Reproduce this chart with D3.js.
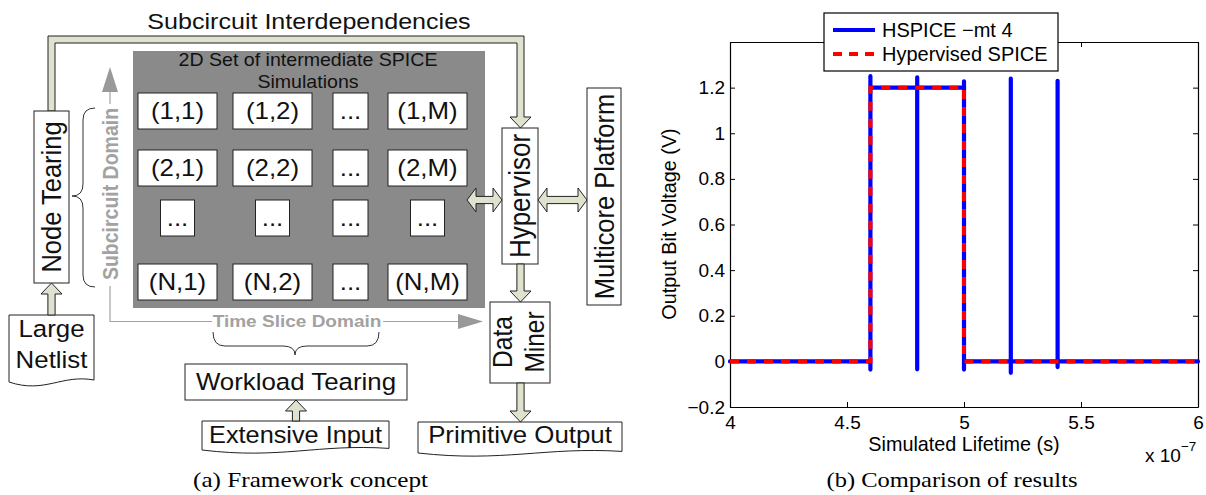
<!DOCTYPE html>
<html lang="en">
<head>
<meta charset="UTF-8" />
<title>Framework concept and comparison of results</title>
<script src="https://d3js.org/d3.v7.min.js"></script>
<style>
  body { margin: 0; background: #fff; }
  text { font-family: "Liberation Sans", Arial, sans-serif; }
  .cap { font-family: "Liberation Serif", "Times New Roman", serif; }
</style>
</head>
<body>
<svg id="fig" width="1206" height="495"></svg>
<script>
// ---- chart data (b) ----
const xTicks = [4, 4.5, 5, 5.5, 6];
const yTicks = [-0.2, 0, 0.2, 0.4, 0.6, 0.8, 1, 1.2];
// HSPICE -mt 4 trace (time in 1e-7 s, volts), with the switching spikes
const hspiceTime = [4.0, 4.6, 4.6, 4.6, 4.6, 4.8, 4.8, 4.8, 4.8, 5.0, 5.0, 5.0, 5.0, 5.2, 5.2, 5.2, 5.2, 5.4, 5.4, 5.4, 5.4, 6.0];
const hspiceVolt = [0, 0, -0.036, 1.25, 1.2, 1.2, 1.245, -0.035, 1.2, 1.2, 1.228, -0.036, 0, 0, 1.24, -0.05, 0, 0, 1.23, -0.025, 0, 0];
// Hypervised SPICE trace
const hyperTime = [4.0, 4.6, 4.6, 5.0, 5.0, 6.0];
const hyperVolt = [0, 0, 1.2, 1.2, 0, 0];
const seriesNames = ["HSPICE \u2212mt 4", "Hypervised SPICE"];

// ---- diagram labels (a) ----
const cellLabels = [
  ["(1,1)", "(1,2)", "...", "(1,M)"],
  ["(2,1)", "(2,2)", "...", "(2,M)"],
  ["...", "...", "...", "..."],
  ["(N,1)", "(N,2)", "...", "(N,M)"]
];

const svg = d3.select("#fig");
svg.append("rect").attr("width", 1206).attr("height", 495).attr("fill", "#fff");

// ================= left: framework diagram =================
const dg = svg.append("g");
const sx = 1.1;            // the original drawing is slightly wide
const arrowFill = "#dfe2cf";
const ink = "#222";

function label(x, y, str, size, opts) {
  opts = opts || {};
  let tr = `translate(${x},${y}) scale(${sx},1)` + (opts.rot ? " rotate(-90)" : "");
  return dg.append("text")
    .attr("transform", tr)
    .attr("text-anchor", "middle")
    .attr("dy", opts.dy || 0)
    .attr("font-size", size)
    .attr("font-weight", opts.bold ? "bold" : null)
    .attr("fill", opts.fill || "#111")
    .text(str);
}
function box(x1, y1, x2, y2) {
  dg.append("rect").attr("x", x1).attr("y", y1)
    .attr("width", x2 - x1).attr("height", y2 - y1)
    .attr("fill", "#fff").attr("stroke", ink).attr("stroke-width", 1);
}
function poly(pts, fill, stroke) {
  dg.append("polygon").attr("points", pts.map(p => p.join(",")).join(" "))
    .attr("fill", fill).attr("stroke", stroke || ink).attr("stroke-width", 1);
}
// vertical block arrow, tip at yTip
function vArrow(cx, yTail, yTip) {
  const s = 3.6, h = 10.5, dir = yTip < yTail ? 1 : -1, hl = 11;
  const yb = yTip + dir * hl;
  poly([[cx - s, yTail], [cx - s, yb], [cx - h, yb], [cx, yTip], [cx + h, yb], [cx + s, yb], [cx + s, yTail]], arrowFill);
}
function dblArrow(x1, x2, cy) {
  const s = 3.6, h = 12, hl = 9;
  poly([[x1, cy], [x1 + hl, cy - h], [x1 + hl, cy - s], [x2 - hl, cy - s], [x2 - hl, cy - h], [x2, cy],
        [x2 - hl, cy + h], [x2 - hl, cy + s], [x1 + hl, cy + s], [x1 + hl, cy + h]], arrowFill);
}
function doc(x1, y1, x2, yb, a) {
  const w = x2 - x1;
  dg.append("path")
    .attr("d", `M${x1},${y1} H${x2} V${yb - a * 0.4} C${x1 + 0.62 * w},${yb - 1.6 * a} ${x1 + 0.42 * w},${yb + 2.4 * a} ${x1},${yb} Z`)
    .attr("fill", "#fff").attr("stroke", ink).attr("stroke-width", 1);
}

// title
label(309, 29, "Subcircuit Interdependencies", 22.8);

// long interdependency arrow
poly([[48, 111], [48, 36], [524, 36], [524, 117], [531, 117], [520.5, 128], [510, 117], [517, 117], [517, 43], [55, 43], [55, 111]], arrowFill);

// grey set of simulations
dg.append("rect").attr("x", 133).attr("y", 51).attr("width", 352).attr("height", 257).attr("fill", "#8a8a8a");
label(308, 66, "2D Set of intermediate SPICE", 17.8);
label(308, 88, "Simulations", 17.8);

const colC = [177.5, 272.5, 350.5, 427.5];
const colW = [79, 79, 35, 79];
const rowY = [93, 150, 200, 264];
cellLabels.forEach((row, r) => {
  row.forEach((t, c) => {
    const w = t === "..." ? (c === 2 ? 35 : 34) : colW[c];
    box(colC[c] - w / 2, rowY[r], colC[c] + w / 2, rowY[r] + 36);
    label(colC[c], rowY[r] + 18, t, 23.5, { dy: "0.35em" });
  });
});

// node tearing
box(34, 111, 69, 283);
label(51.5, 197, "Node Tearing", 25.5, { rot: true, dy: "0.35em" });
doc(9, 315, 94, 382, 5);
label(51.5, 337, "Large", 23.5);
label(51.5, 368, "Netlist", 23.5);
vArrow(51.5, 315, 283);

// subcircuit domain brace + arrow
const braceStroke = "#333";
dg.append("path")
  .attr("d", "M95,108 Q83,108 83,120 V184 Q83,196 72,196 Q83,196 83,208 V275 Q83,287 95,287")
  .attr("fill", "none").attr("stroke", braceStroke).attr("stroke-width", 1);
const grey = "#a2a2a2";
label(110, 194, "Subcircuit Domain", 19.5, { rot: true, dy: "0.35em", bold: true, fill: grey });
dg.append("line").attr("x1", 110).attr("y1", 104).attr("x2", 110).attr("y2", 90).attr("stroke", grey).attr("stroke-width", 1.2);
poly([[102, 92], [118, 92], [110, 67]], "#999", "none");
dg.append("path").attr("d", "M110,286 V321.5 H212").attr("fill", "none").attr("stroke", grey).attr("stroke-width", 1.2);
label(297, 327, "Time Slice Domain", 17.3, { bold: true, fill: grey });
dg.append("line").attr("x1", 383).attr("y1", 321.5).attr("x2", 460).attr("y2", 321.5).attr("stroke", grey).attr("stroke-width", 1.2);
poly([[458, 314], [458, 329], [483, 321.5]], "#999", "none");

// workload brace
dg.append("path")
  .attr("d", "M213,332 Q213,346 225,346 H283 Q295,346 295,355 Q295,346 307,346 H367 Q379,346 379,332")
  .attr("fill", "none").attr("stroke", braceStroke).attr("stroke-width", 1);

box(185, 364, 407, 400);
label(296, 382, "Workload Tearing", 23.5, { dy: "0.35em" });
doc(202, 421, 389, 450, 4);
label(295.5, 443, "Extensive Input", 23);
vArrow(296, 421, 400);

// hypervisor
box(502, 128, 538, 264);
label(520, 196, "Hypervisor", 26, { rot: true, dy: "0.35em" });
dblArrow(467, 502, 200);
dblArrow(538, 587, 200);
box(587, 88, 621, 305);
label(604, 196.5, "Multicore Platform", 25.5, { rot: true, dy: "0.35em" });

vArrow(520.5, 264, 302);
box(490, 302, 550, 383);
label(503, 342, "Data", 24.5, { rot: true, dy: "0.35em" });
label(535, 342, "Miner", 24.5, { rot: true, dy: "0.35em" });
vArrow(520.5, 383, 422);
doc(418, 422, 622, 453, 4);
label(520, 443, "Primitive Output", 23.5);

svg.append("text").attr("class", "cap")
  .attr("x", 310.5).attr("y", 487).attr("text-anchor", "middle")
  .attr("font-size", 22).attr("textLength", 235).attr("lengthAdjust", "spacingAndGlyphs")
  .text("(a) Framework concept");

// ================= right: comparison chart =================
const plot = { left: 730, right: 1198, top: 42, bottom: 407 };
const x = d3.scaleLinear().domain([4, 6]).range([plot.left, plot.right]);
const y = d3.scaleLinear().domain([-0.2, 1.4]).range([plot.bottom, plot.top]);
const fmt = d3.format("~g");

const cg = svg.append("g");
function styleAxis(g) {
  g.selectAll("path.domain").attr("stroke", "#000").attr("stroke-width", 1.2);
  g.selectAll(".tick line").attr("stroke", "#000");
  g.selectAll("text").attr("font-family", "'Liberation Sans', Arial, sans-serif").attr("font-size", 19).attr("fill", "#000");
}
cg.append("g").attr("transform", `translate(0,${plot.bottom})`)
  .call(d3.axisBottom(x).tickValues(xTicks).tickFormat(fmt).tickSizeInner(-5).tickSizeOuter(0).tickPadding(9))
  .call(styleAxis);
cg.append("g").attr("transform", `translate(0,${plot.top})`)
  .call(d3.axisTop(x).tickValues(xTicks).tickFormat("").tickSizeInner(-5).tickSizeOuter(0))
  .call(styleAxis);
cg.append("g").attr("transform", `translate(${plot.left},0)`)
  .call(d3.axisLeft(y).tickValues(yTicks).tickFormat(fmt).tickSizeInner(-5).tickSizeOuter(0).tickPadding(5))
  .call(styleAxis);
cg.append("g").attr("transform", `translate(${plot.right},0)`)
  .call(d3.axisRight(y).tickValues(yTicks).tickFormat("").tickSizeInner(-5).tickSizeOuter(0))
  .call(styleAxis);

const line = d3.line().x(d => x(d[0])).y(d => y(d[1]));
const hspice = hspiceTime.map((t, i) => [t, hspiceVolt[i]]);
const hyper = hyperTime.map((t, i) => [t, hyperVolt[i]]);

cg.append("path").datum(hspice).attr("d", line)
  .attr("fill", "none").attr("stroke", "#0000ff").attr("stroke-width", 4.2)
  .attr("stroke-linecap", "round").attr("stroke-linejoin", "round");
cg.append("path").datum(hyper).attr("d", line)
  .attr("fill", "none").attr("stroke", "#ff0000").attr("stroke-width", 4)
  .attr("stroke-dasharray", "9,8");

// axis labels
cg.append("text").attr("transform", `translate(676,224) rotate(-90)`)
  .attr("text-anchor", "middle").attr("font-size", 19.8).text("Output Bit Voltage (V)");
cg.append("text").attr("x", 964).attr("y", 451)
  .attr("text-anchor", "middle").attr("font-size", 19.8).text("Simulated Lifetime (s)");
const mult = cg.append("text").attr("x", 1145).attr("y", 462).attr("font-size", 19);
mult.append("tspan").text("x 10");
mult.append("tspan").attr("dy", -11).attr("font-size", 13.5).text("\u22127");

// legend
const lg = cg.append("g");
lg.append("rect").attr("x", 824).attr("y", 13).attr("width", 234).attr("height", 58)
  .attr("fill", "#fff").attr("stroke", "#000").attr("stroke-width", 1.2);
const legStyles = [
  { color: "#0000ff", dash: null },
  { color: "#ff0000", dash: "9,7" }
];
seriesNames.forEach((name, i) => {
  const yy = 30 + i * 24;
  lg.append("line").attr("x1", 833).attr("x2", 875).attr("y1", yy).attr("y2", yy)
    .attr("stroke", legStyles[i].color).attr("stroke-width", 4)
    .attr("stroke-dasharray", legStyles[i].dash);
  lg.append("text").attr("x", 882).attr("y", yy).attr("dy", "0.36em")
    .attr("font-size", 20).text(name);
});

svg.append("text").attr("class", "cap")
  .attr("x", 952).attr("y", 487).attr("text-anchor", "middle")
  .attr("font-size", 22).attr("textLength", 251).attr("lengthAdjust", "spacingAndGlyphs")
  .text("(b) Comparison of results");
</script>
</body>
</html>
